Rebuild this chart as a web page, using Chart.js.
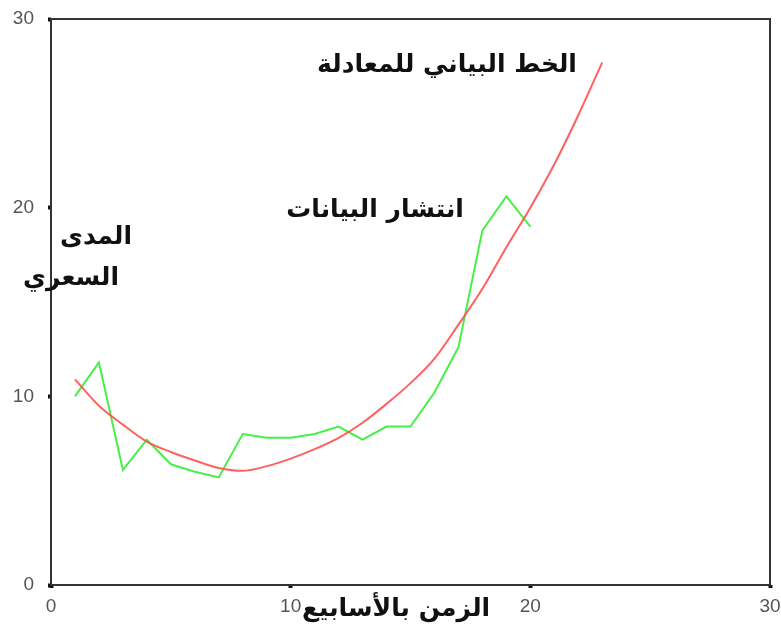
<!DOCTYPE html>
<html>
<head>
<meta charset="utf-8">
<script src="https://cdn.jsdelivr.net/npm/chart.js@4/dist/chart.umd.min.js"></script>
<style>
  html, body { margin: 0; padding: 0; background: #fff; }
  #wrap { width: 781px; height: 631px; }
</style>
</head>
<body>
<div id="wrap"><canvas id="fitChart" width="781" height="631"></canvas></div>
<script>
// weekly observations (green)
const weeks = [1, 2, 3, 4, 5, 6, 7, 8, 9, 10, 11, 12, 13, 14, 15, 16, 17, 18, 19, 20];
const prices = [10.0, 11.8, 6.1, 7.7, 6.4, 6.0, 5.7, 8.0, 7.8, 7.8, 8.0, 8.4, 7.7, 8.4, 8.4, 10.2, 12.6, 18.8, 20.6, 19.0];

// fitted curve (red)
const fitWeeks = [1, 2, 3, 4, 5, 6, 7, 8, 9, 10, 11, 12, 13, 14, 15, 16, 17, 18, 19, 20, 21, 22, 23];
const fitValues = [10.9, 9.5, 8.5, 7.6, 7.05, 6.6, 6.2, 6.05, 6.3, 6.7, 7.2, 7.8, 8.6, 9.6, 10.7, 12.0, 13.8, 15.7, 17.9, 20.0, 22.3, 24.9, 27.7];

const tickValues = [0, 10, 20, 30];

const labels = [
  { text: "الخط البياني للمعادلة", x: 447, y: 65 },
  { text: "انتشار البيانات", x: 375, y: 210 },
  { text: "المدى", x: 96, y: 237 },
  { text: "السعري", x: 71, y: 278 },
  { text: "الزمن بالأسابيع", x: 396, y: 609 },
];

const toPoints = (xs, ys) => xs.map((x, i) => ({ x: x, y: ys[i] }));

const frame = {
  id: "frame",
  beforeDatasetsDraw(chart) {
    const { ctx, chartArea: a } = chart;
    ctx.save();
    ctx.strokeStyle = "#333";
    ctx.lineWidth = 2;
    ctx.strokeRect(a.left, a.top, a.right - a.left, a.bottom - a.top);
    ctx.restore();
  },
  afterDraw(chart) {
    const ctx = chart.ctx;
    ctx.save();
    ctx.fillStyle = "#111";
    ctx.font = "bold 25px 'DejaVu Sans'";
    ctx.textAlign = "center";
    ctx.textBaseline = "middle";
    labels.forEach((l) => ctx.fillText(l.text, l.x, l.y));
    ctx.restore();
  },
};

const ctx = document.getElementById("fitChart").getContext("2d");
new Chart(ctx, {
  type: "scatter",
  data: {
    datasets: [
      {
        label: "fit",
        data: toPoints(fitWeeks, fitValues),
        showLine: true,
        borderColor: "rgba(255, 80, 80, 0.9)",
        borderWidth: 2,
        pointRadius: 0,
        cubicInterpolationMode: "monotone",
      },
      {
        label: "data",
        data: toPoints(weeks, prices),
        showLine: true,
        borderColor: "rgb(70, 240, 70)",
        borderWidth: 2,
        pointRadius: 0,
        tension: 0,
      },
    ],
  },
  options: {
    responsive: false,
    animation: false,
    layout: { padding: { top: 19, right: 11, left: 0, bottom: 0 } },
    plugins: { legend: { display: false }, tooltip: { enabled: false } },
    scales: {
      x: {
        type: "linear",
        min: 0,
        max: 30,
        afterBuildTicks: (s) => { s.ticks = tickValues.map((v) => ({ value: v })); },
        afterFit: (s) => { s.height = 46; s.paddingLeft = 0; s.paddingRight = 0; },
        grid: { drawOnChartArea: false, tickLength: 3, tickWidth: 4, tickColor: "#111" },
        border: { display: false },
        ticks: { color: "#555", padding: 7, font: { family: "Liberation Sans", size: 19 } },
      },
      y: {
        type: "linear",
        min: 0,
        max: 30,
        afterBuildTicks: (s) => { s.ticks = tickValues.map((v) => ({ value: v })); },
        afterFit: (s) => { s.width = 51; s.paddingTop = 0; s.paddingBottom = 0; },
        grid: { drawOnChartArea: false, tickLength: 3, tickWidth: 4, tickColor: "#111" },
        border: { display: false },
        ticks: { color: "#555", padding: 14, font: { family: "Liberation Sans", size: 19 } },
      },
    },
  },
  plugins: [frame],
});
</script>
</body>
</html>
